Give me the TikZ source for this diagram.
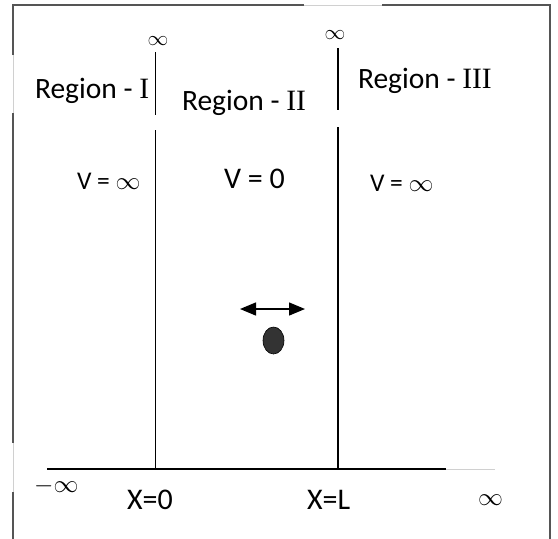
\documentclass[tikz,border=0pt]{standalone}
\usepackage{fontspec}
\setmainfont{Carlito}
\newfontfamily\romfont{Liberation Serif}
\usetikzlibrary{arrows.meta,shapes.geometric}
\definecolor{framedark}{HTML}{555555}
\definecolor{framelight}{HTML}{D0D0D0}
\definecolor{ballfill}{HTML}{333333}
\tikzset{
  txt/.style={inner sep=0pt, outer sep=0pt, anchor=base west},
  regionlbl/.style={txt, font=\fontsize{29.5}{32}\selectfont},
  vlbl/.style={txt, font=\fontsize{25.5}{28}\selectfont},
  xlbl/.style={txt, font=\fontsize{30}{32}\selectfont},
  wall/.style={line width=1.5pt, black},
  framedk/.style={line width=1.6pt, framedark},
  framelt/.style={line width=0.8pt, framelight},
}
\begin{document}
\begin{tikzpicture}[x=1pt, y=-1pt]
\useasboundingbox (0,0) rectangle (558,539);
% frame
\draw[framelt] (13,539) -- (13,5) -- (550,5) -- (550,539);
\draw[framedk] (13,55) -- (13,5) -- (304,5);
\draw[framedk] (382,5) -- (550,5) -- (550,539);
\draw[framedk] (13,113) -- (13,443);
\draw[framedk] (13,492) -- (13,539);
% axis
\coordinate (axL) at (47,469);
\coordinate (axM) at (446,469);
\coordinate (axR) at (495,469);
\draw[line width=1.5pt] (axL) -- (axM);
\draw[framelt] (axM) -- (axR);
% walls
\coordinate (w1top) at (155.5,52);
\coordinate (w1a) at (155.5,115);
\coordinate (w1b) at (155.5,130);
\coordinate (w1bot) at (155.5,469);
\coordinate (w2top) at (338,48);
\coordinate (w2a) at (338,110);
\coordinate (w2b) at (338,127);
\coordinate (w2bot) at (338,469);
\draw[wall] (w1top) -- (w1a);
\draw[wall] (w1b) -- (w1bot);
\draw[wall] (w2top) -- (w2a);
\draw[wall] (w2b) -- (w2bot);
% infinity tops
\node[inner sep=0pt] (inf1) at (158,41) {\fontsize{21}{23}\selectfont$\infty$};
\node[inner sep=0pt] (inf2) at (335,35) {\fontsize{21}{23}\selectfont$\infty$};
% region labels
\node[regionlbl] (r1) at (35,98) {Region - {\romfont I}};
\node[regionlbl] (r2) at (182,110) {Region - {\romfont II}};
\node[regionlbl] (r3) at (358,88) {Region - {\romfont III}};
% potentials
\node[vlbl] (v1) at (77,189) {V = $\infty$};
\node[txt, font=\fontsize{30}{32}\selectfont] (v2) at (224,188) {V = 0};
\node[vlbl] (v3) at (370,191) {V = $\infty$};
% particle
\coordinate (arL) at (240,309);
\coordinate (arR) at (305,309);
\draw[line width=1.4pt, {Triangle[length=16pt,width=13pt]}-{Triangle[length=16pt,width=13pt]}] (arL) -- (arR);
\node[draw=black, fill=ballfill, ellipse, minimum width=21pt, minimum height=27pt, inner sep=0pt, line width=0.6pt] (ball) at (273.5,340.5) {};
% bottom labels
\node[inner sep=0pt, anchor=west] (minf) at (34,486) {\fontsize{24}{26}\selectfont$-\infty$};
\node[xlbl] (x0) at (127,509) {X=0};
\node[xlbl] (xL) at (307,509) {X=L};
\node[inner sep=0pt] (pinf) at (490.5,500) {\fontsize{24}{26}\selectfont$\infty$};
\end{tikzpicture}
\end{document}
